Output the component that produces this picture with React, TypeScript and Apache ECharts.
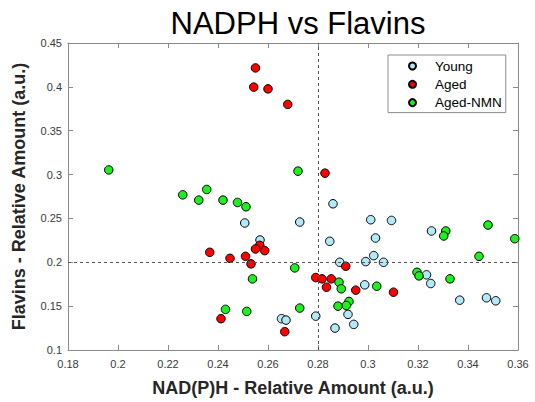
import React, { useEffect, useRef } from "react";
import * as echarts from "echarts";

const seriesNames = ["Young", "Aged", "Aged-NMN"];
const seriesColors = ["#b3e8f7", "#ff0000", "#1fee1f"];

const youngX = [0.2507, 0.2727, 0.2568, 0.2654, 0.2672, 0.286, 0.3011, 0.3094, 0.2847, 0.303, 0.3254, 0.2887, 0.2991, 0.3023, 0.3062, 0.2987, 0.3234, 0.3251, 0.3367, 0.3474, 0.3511, 0.292, 0.2791, 0.2943, 0.2868];
const youngY = [0.2448, 0.2459, 0.2254, 0.1357, 0.1341, 0.2667, 0.2485, 0.2477, 0.2239, 0.2277, 0.2357, 0.2, 0.2008, 0.2076, 0.2, 0.1743, 0.1857, 0.1758, 0.1568, 0.1595, 0.1561, 0.1406, 0.1386, 0.1292, 0.125];

const agedX = [0.255, 0.2543, 0.26, 0.2679, 0.2828, 0.2567, 0.255, 0.2587, 0.2367, 0.2448, 0.251, 0.2532, 0.2412, 0.2667, 0.2911, 0.2791, 0.2816, 0.2853, 0.2834, 0.2951, 0.3102];
const agedY = [0.4216, 0.3997, 0.3977, 0.38, 0.3016, 0.2193, 0.2152, 0.2133, 0.2114, 0.2045, 0.2068, 0.1982, 0.1357, 0.1209, 0.1955, 0.1826, 0.1811, 0.1811, 0.1716, 0.1682, 0.1659];

const nmnX = [0.1963, 0.272, 0.2259, 0.2323, 0.2355, 0.242, 0.2478, 0.2512, 0.2538, 0.2707, 0.243, 0.2515, 0.2727, 0.3311, 0.3303, 0.348, 0.3587, 0.3444, 0.2884, 0.2893, 0.3035, 0.3196, 0.3204, 0.3328, 0.2924, 0.2913, 0.288];
const nmnY = [0.3053, 0.3039, 0.2769, 0.2709, 0.283, 0.2709, 0.2682, 0.2633, 0.1811, 0.1936, 0.1463, 0.144, 0.1478, 0.2357, 0.23, 0.2425, 0.2269, 0.2068, 0.1773, 0.1698, 0.1727, 0.1886, 0.1845, 0.1811, 0.1553, 0.1508, 0.15];

const refLineX = 0.2813;
const refLineY = 0.2015;

const xMin = 0.18, xMax = 0.36, xStep = 0.02;
const yMin = 0.1, yMax = 0.45, yStep = 0.05;

const FONT = "'Liberation Sans', Arial, Helvetica, sans-serif";
const AXIS_GRAY = "#8a8a8a";

function zip(xs: number[], ys: number[]) {
  return xs.map((x, i) => [x, ys[i]]);
}

export default function App() {
  const ref = useRef<HTMLDivElement>(null);
  useEffect(() => {
    if (!ref.current) return;
    const chart = echarts.init(ref.current, undefined, { renderer: "svg" });
    const allData = [zip(youngX, youngY), zip(agedX, agedY), zip(nmnX, nmnY)];
    const axisCommon = {
      axisLine: { show: true, lineStyle: { color: AXIS_GRAY, width: 1 } },
      axisTick: { show: true, inside: true, length: 5, lineStyle: { color: AXIS_GRAY } },
      splitLine: { show: false },
    };
    chart.setOption({
      animation: false,
      backgroundColor: "#ffffff",
      textStyle: { fontFamily: FONT },
      title: {
        text: "NADPH vs Flavins",
        left: 293,
        textAlign: "center",
        top: 3,
        textStyle: { fontFamily: FONT, fontSize: 31, fontWeight: "normal", color: "#000" },
      },
      legend: {
        orient: "vertical",
        left: 388,
        top: 55,
        width: 117,
        data: seriesNames,
        icon: "circle",
        itemWidth: 7,
        itemHeight: 7,
        itemGap: 2.3,
        borderColor: "#8c8c8c",
        borderWidth: 1,
        padding: [3, 4, 2, 20],
        textStyle: { fontFamily: FONT, fontSize: 13.5, color: "#000", lineHeight: 16, padding: [0, 0, 0, 14] },
      },
      grid: { left: 68, right: 17, top: 43, bottom: 50, containLabel: false },
      xAxis: [
        {
          type: "value",
          min: xMin,
          max: xMax,
          interval: xStep,
          position: "bottom",
          name: "NAD(P)H - Relative Amount (a.u.)",
          nameLocation: "middle",
          nameGap: 29,
          nameTextStyle: { fontFamily: FONT, fontSize: 18, fontWeight: "bold", color: "#262626" },
          axisLabel: { fontFamily: FONT, fontSize: 11, color: "#3a3a3a", margin: 8 },
          ...axisCommon,
        },
        {
          type: "value",
          min: xMin,
          max: xMax,
          interval: xStep,
          position: "top",
          axisLabel: { show: false },
          ...axisCommon,
        },
      ],
      yAxis: [
        {
          type: "value",
          min: yMin,
          max: yMax,
          interval: yStep,
          position: "left",
          name: "Flavins - Relative Amount (a.u.)",
          nameLocation: "middle",
          nameGap: 40,
          nameTextStyle: { fontFamily: FONT, fontSize: 18, fontWeight: "bold", color: "#262626" },
          axisLabel: { fontFamily: FONT, fontSize: 11, color: "#3a3a3a", margin: 6 },
          ...axisCommon,
        },
        {
          type: "value",
          min: yMin,
          max: yMax,
          interval: yStep,
          position: "right",
          axisLabel: { show: false },
          ...axisCommon,
        },
      ],
      series: allData.map((d, i) => ({
        name: seriesNames[i],
        type: "scatter",
        data: d,
        symbol: "circle",
        symbolSize: 8.5,
        itemStyle: { color: seriesColors[i], borderColor: "#000", borderWidth: 1, opacity: 1 },
        emphasis: { disabled: true },
        z: 3 + i,
        markLine:
          i === 0
            ? {
                silent: true,
                symbol: "none",
                label: { show: false },
                lineStyle: { color: "#555", type: [3, 3], width: 1 },
                data: [{ xAxis: refLineX }, { yAxis: refLineY }],
              }
            : undefined,
      })),
    });
    return () => chart.dispose();
  }, []);
  return (
    <div
      ref={ref}
      style={{ position: "fixed", left: 0, top: 0, width: 535, height: 402, background: "#fff" }}
    />
  );
}
